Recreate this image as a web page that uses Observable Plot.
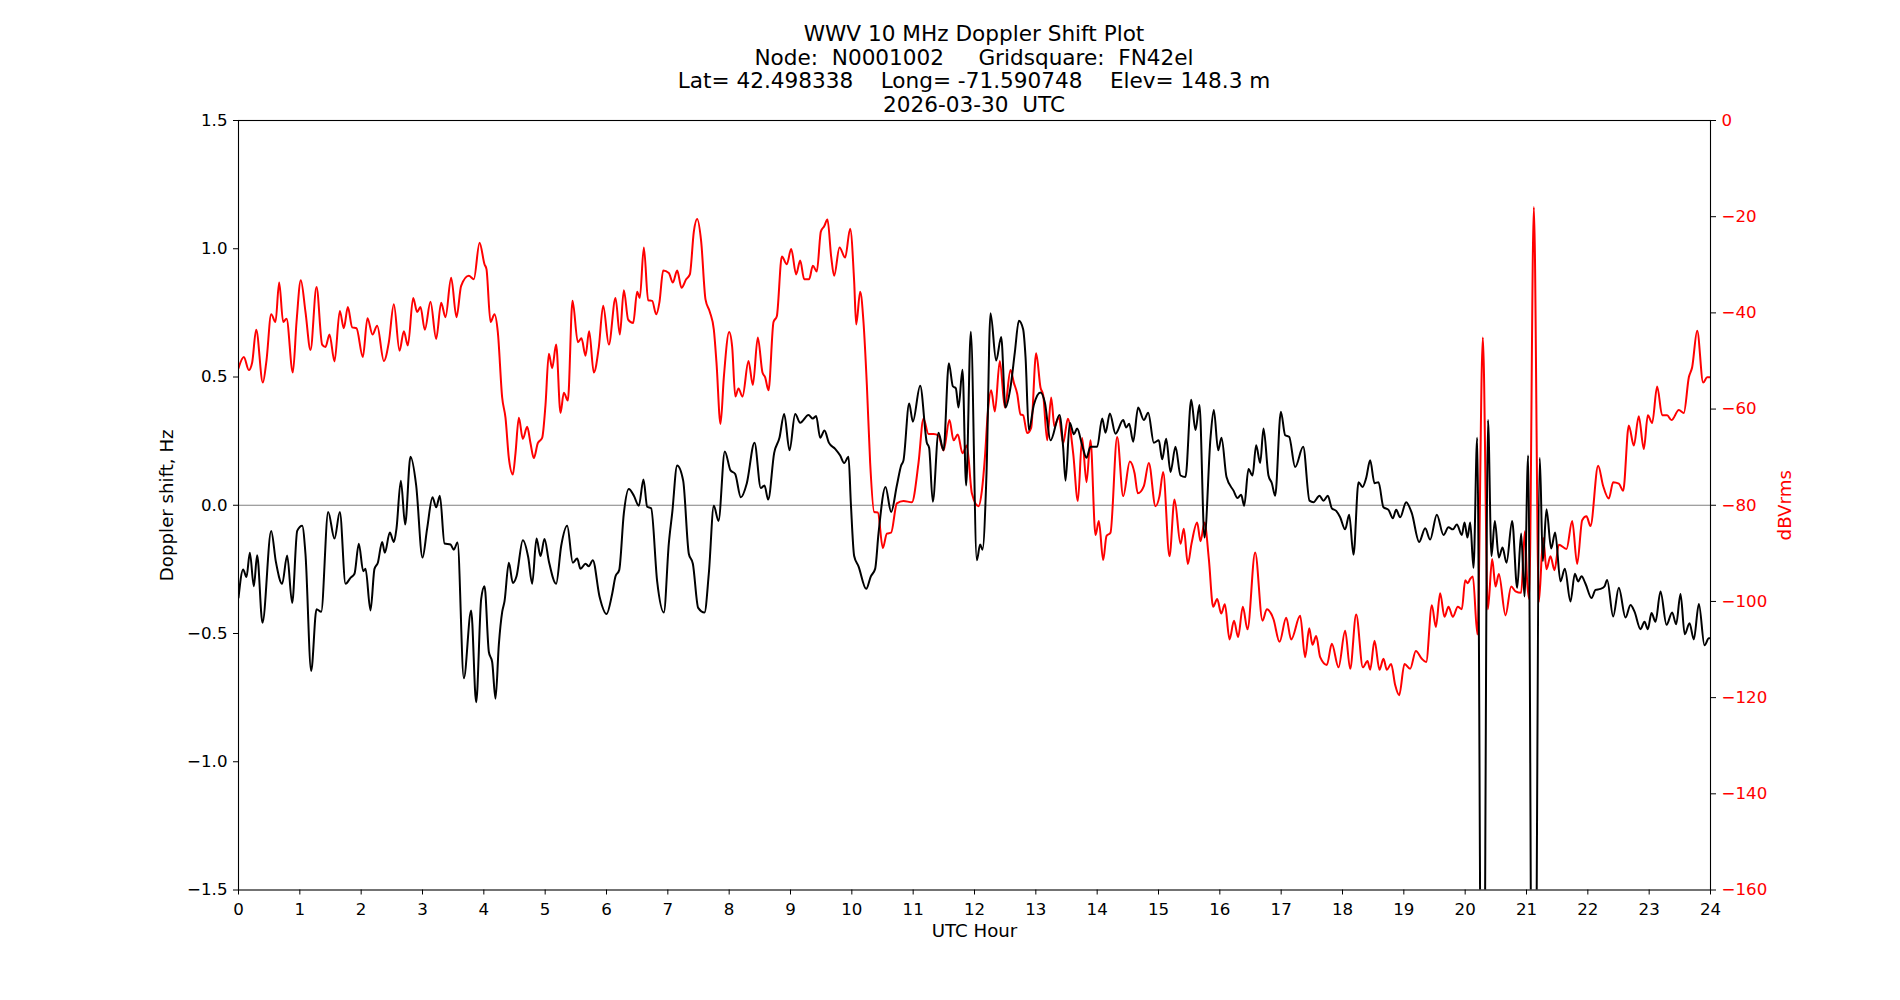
<!DOCTYPE html>
<html>
<head>
<meta charset="utf-8">
<script src="https://cdn.jsdelivr.net/npm/d3@7"></script>
<script src="https://cdn.jsdelivr.net/npm/@observablehq/plot@0.6"></script>
<style>
html, body { margin: 0; padding: 0; background: #fff; }
#title {
  width: 1900px; height: 116px; box-sizing: border-box;
  padding-top: 22px; padding-left: 48px;
  text-align: center; font-family: "DejaVu Sans", sans-serif;
  font-size: 21.6px; line-height: 23.67px; white-space: pre; color: #000;
}
#title div { height: 23.67px; }
</style>
</head>
<body>
<div id="title"></div>
<div id="chart"></div>
<script>
const titleLines = [
  "WWV 10 MHz Doppler Shift Plot",
  "Node:  N0001002     Gridsquare:  FN42el",
  "Lat= 42.498338    Long= -71.590748    Elev= 148.3 m",
  "2026-03-30  UTC"
];
const xLabel = "UTC Hour";
const yLabelLeft = "Doppler shift, Hz";
const yLabelRight = "dBVrms";

const hourTicks = [0,1,2,3,4,5,6,7,8,9,10,11,12,13,14,15,16,17,18,19,20,21,22,23,24];
const dopplerTicks = [-1.5, -1.0, -0.5, 0.0, 0.5, 1.0, 1.5];
const dbTicks = [-160, -140, -120, -100, -80, -60, -40, -20, 0];

// Doppler shift (Hz) vs UTC hour
const dopplerHours = [
0.0,0.076,0.13,0.185,0.25,0.304,0.391,0.533,0.609,0.712,0.793,0.875,0.957,1.038,1.092,1.185,1.272,1.348,1.462,1.565,1.652,1.745,1.826,1.891,1.962,
2.033,2.071,2.152,2.217,2.272,2.342,2.386,2.467,2.533,2.576,2.647,2.717,2.804,2.897,3.0,3.076,3.163,3.223,3.283,3.359,3.457,3.511,3.571,3.674,3.793,3.875,3.957,4.011,
4.082,4.136,4.19,4.245,4.30,4.337,4.408,4.473,4.533,4.636,4.723,4.788,4.859,4.924,4.989,5.06,5.179,5.261,5.359,5.451,5.522,5.576,5.658,5.712,5.777,5.886,
6.0,6.092,6.147,6.207,6.283,6.364,6.446,6.527,6.603,6.663,6.728,6.826,6.935,7.016,7.071,7.152,7.25,7.342,7.408,7.495,7.598,7.668,7.75,7.826,7.929,8.022,
8.098,8.19,8.288,8.413,8.516,8.576,8.636,8.734,8.82,8.897,8.984,9.076,9.158,9.293,9.364,9.418,9.484,9.554,9.625,9.728,9.81,9.875,9.946,9.984,
10.038,10.109,10.234,10.31,10.38,10.435,10.549,10.641,10.734,10.804,10.842,10.935,10.995,11.114,11.223,11.26,11.32,11.413,11.495,11.582,11.647,11.696,11.739,11.804,11.864,11.94,
12.038,12.092,12.13,12.196,12.261,12.353,12.435,12.505,12.587,12.658,12.723,12.793,12.832,12.886,12.967,13.076,13.147,13.239,13.386,13.446,13.484,13.554,13.62,13.674,13.755,13.826,13.891,
14.0,14.082,14.136,14.207,14.299,14.424,14.473,14.522,14.587,14.668,14.761,14.832,14.924,15.005,15.06,15.125,15.196,15.277,15.359,15.44,15.533,15.603,15.668,15.75,15.848,15.902,15.973,
16.027,16.109,16.223,16.288,16.348,16.397,16.467,16.533,16.592,16.658,16.712,16.793,16.848,16.902,16.995,17.065,17.13,17.228,17.359,17.462,17.527,17.625,17.69,17.761,17.826,17.897,17.962,
18.043,18.109,18.179,18.261,18.326,18.386,18.451,18.522,18.587,18.668,18.75,18.821,18.875,18.94,19.038,19.13,19.25,19.348,19.429,19.538,19.647,19.728,19.799,19.864,19.946,19.989,
20.038,20.082,20.136,20.196,20.285,20.372,20.429,20.484,20.549,20.609,20.674,20.766,20.848,20.913,20.967,21.027,21.114,21.217,21.266,21.326,21.402,21.467,21.554,21.625,21.717,21.788,21.842,21.897,21.962,
22.06,22.125,22.207,22.272,22.315,22.413,22.505,22.614,22.696,22.761,22.859,22.924,22.978,23.038,23.103,23.185,23.283,23.375,23.44,23.511,23.58,23.658,23.728,23.81,23.902,23.973,24.0
];
const dopplerHz = [
-0.36,-0.25,-0.28,-0.185,-0.316,-0.195,-0.458,-0.10,-0.22,-0.306,-0.196,-0.381,-0.10,-0.08,-0.19,-0.646,-0.405,-0.415,-0.026,-0.13,-0.026,-0.306,-0.283,-0.267,-0.15,
-0.257,-0.248,-0.41,-0.248,-0.224,-0.143,-0.185,-0.106,-0.143,-0.09,0.096,-0.075,0.189,0.077,-0.204,-0.09,0.031,-0.008,0.037,-0.149,-0.153,-0.173,-0.145,-0.674,-0.41,-0.768,-0.365,-0.316,
-0.572,-0.611,-0.754,-0.542,-0.415,-0.375,-0.224,-0.303,-0.277,-0.136,-0.202,-0.306,-0.13,-0.198,-0.132,-0.218,-0.306,-0.159,-0.08,-0.224,-0.208,-0.248,-0.228,-0.238,-0.214,-0.356,
-0.424,-0.346,-0.277,-0.253,-0.031,0.063,0.037,-0.002,0.10,-0.006,-0.012,-0.297,-0.418,-0.149,-0.031,0.155,0.096,-0.189,-0.228,-0.40,-0.418,-0.267,-0.002,-0.061,0.21,0.136,
0.122,0.031,0.086,0.244,0.067,0.077,0.022,0.204,0.263,0.356,0.214,0.356,0.322,0.352,0.338,0.348,0.263,0.291,0.244,0.22,0.194,0.165,0.189,0.008,
-0.198,-0.238,-0.326,-0.277,-0.248,-0.11,0.071,-0.026,0.077,0.155,0.175,0.397,0.326,0.466,0.244,0.224,0.014,0.283,0.214,0.554,0.464,0.456,0.381,0.528,0.077,0.676,
-0.214,-0.153,-0.173,0.126,0.749,0.564,0.656,0.381,0.46,0.597,0.719,0.686,0.578,0.293,0.391,0.44,0.401,0.253,0.352,0.224,0.096,0.322,0.277,0.299,0.234,0.185,0.228,
0.228,0.338,0.283,0.358,0.279,0.332,0.303,0.318,0.248,0.381,0.332,0.361,0.244,0.253,0.179,0.259,0.13,0.228,0.116,0.11,0.411,0.293,0.391,-0.126,0.263,0.371,0.214,
0.263,0.11,0.057,0.028,0.041,-0.002,0.141,0.116,0.234,0.165,0.299,0.116,0.086,0.037,0.365,0.273,0.267,0.149,0.228,0.018,0.012,0.037,0.018,0.037,-0.012,-0.022,-0.047,
-0.094,-0.037,-0.193,0.09,0.071,0.106,0.175,0.086,0.09,-0.008,-0.018,-0.051,-0.018,-0.047,0.012,-0.031,-0.143,-0.09,-0.134,-0.037,-0.116,-0.086,-0.094,-0.075,-0.116,-0.067,
-0.126,-0.067,-0.244,0.263,-3.0,0.332,-0.198,-0.061,-0.204,-0.165,-0.224,-0.061,-0.322,-0.11,-0.356,0.194,-3.3,0.185,-0.218,-0.016,-0.169,-0.106,-0.297,-0.248,-0.375,-0.267,-0.297,-0.277,-0.306,
-0.362,-0.33,-0.326,-0.316,-0.291,-0.434,-0.322,-0.438,-0.389,-0.415,-0.483,-0.454,-0.483,-0.42,-0.454,-0.336,-0.466,-0.418,-0.464,-0.346,-0.503,-0.46,-0.523,-0.385,-0.546,-0.519,-0.519
];

// Received signal level (dBVrms) vs UTC hour
const powerHours = [
0.0,0.087,0.168,0.223,0.288,0.397,0.457,0.533,0.603,0.663,0.728,0.783,0.886,0.946,1.016,1.092,1.174,1.272,1.364,1.418,1.484,1.565,1.652,1.717,1.783,1.853,1.924,
2.027,2.103,2.185,2.261,2.37,2.451,2.533,2.625,2.696,2.761,2.848,2.913,2.967,3.038,3.13,3.223,3.304,3.375,3.467,3.554,3.63,3.755,3.837,3.93,
4.011,4.043,4.109,4.174,4.228,4.299,4.353,4.408,4.473,4.516,4.571,4.636,4.707,4.761,4.815,4.88,4.951,5.005,5.06,5.114,5.179,5.25,5.304,5.37,5.446,5.533,5.592,5.658,5.717,5.793,5.875,5.946,
6.038,6.147,6.217,6.283,6.353,6.435,6.5,6.543,6.609,6.679,6.745,6.81,6.864,6.924,7.016,7.082,7.152,7.223,7.299,7.359,7.424,7.478,7.543,7.614,7.685,7.75,7.793,7.859,7.913,
8.0,8.049,8.10,8.152,8.217,8.315,8.386,8.467,8.543,8.587,8.641,8.723,8.777,8.859,8.94,9.011,9.092,9.158,9.223,9.304,9.364,9.429,9.495,9.549,9.603,9.663,9.712,9.799,9.891,9.973,
10.038,10.071,10.136,10.19,10.245,10.299,10.364,10.424,10.505,10.571,10.641,10.734,10.842,10.978,11.087,11.168,11.25,11.332,11.413,11.495,11.592,11.658,11.728,11.804,11.875,11.957,
12.065,12.12,12.17,12.217,12.272,12.332,12.413,12.495,12.587,12.641,12.696,12.75,12.793,12.859,12.924,13.005,13.076,13.12,13.185,13.25,13.304,13.375,13.446,13.522,13.609,13.685,13.755,13.826,13.891,13.973,
14.027,14.098,14.152,14.217,14.326,14.424,14.533,14.609,14.663,14.761,14.842,14.951,15.016,15.076,15.179,15.261,15.359,15.413,15.478,15.538,15.63,15.685,15.75,15.821,15.891,15.957,
16.022,16.082,16.158,16.231,16.298,16.375,16.451,16.576,16.696,16.766,16.875,16.973,17.082,17.163,17.31,17.391,17.457,17.511,17.571,17.636,17.745,17.826,17.935,
18.043,18.125,18.223,18.332,18.408,18.451,18.522,18.603,18.668,18.723,18.793,18.859,18.924,19.011,19.103,19.196,19.293,19.364,19.457,19.522,19.592,19.663,19.728,19.799,19.88,19.946,
20.0,20.043,20.082,20.125,20.2,20.288,20.37,20.44,20.495,20.549,20.658,20.75,20.821,20.913,20.973,21.011,21.043,21.12,21.201,21.272,21.326,21.391,21.457,21.527,21.652,21.745,21.826,21.908,21.978,
22.043,22.168,22.25,22.342,22.413,22.505,22.576,22.668,22.75,22.83,22.913,22.978,23.049,23.13,23.212,23.293,23.364,23.484,23.565,23.647,23.701,23.783,23.88,23.946,24.0
];
const powerDb = [
-51.5,-49.2,-51.9,-50.3,-43.5,-54.5,-49.8,-40.3,-41.9,-33.7,-41.9,-41.2,-52.4,-41.9,-33.2,-39.8,-47.7,-34.6,-46.6,-47.1,-44.5,-50.1,-39.6,-43.2,-38.8,-43.0,-43.2,
-49.2,-41.1,-44.5,-42.7,-50.0,-46.1,-38.2,-47.9,-43.8,-46.8,-36.9,-39.8,-38.8,-43.5,-37.7,-45.4,-37.9,-40.9,-32.7,-40.9,-34.4,-32.3,-33.0,-25.4,
-29.9,-30.9,-41.9,-40.3,-44.0,-57.6,-61.8,-70.2,-73.6,-69.2,-61.8,-66.2,-63.7,-67.1,-70.2,-67.1,-66.0,-59.2,-48.5,-51.5,-46.6,-60.8,-56.6,-58.2,-37.5,-46.1,-45.3,-48.9,-43.8,-52.4,-47.1,-38.5,
-46.6,-36.9,-44.5,-35.3,-41.4,-42.1,-35.6,-36.9,-26.4,-37.4,-37.5,-40.3,-37.7,-31.2,-31.7,-33.7,-31.2,-34.8,-33.0,-32.0,-23.1,-20.5,-25.1,-37.2,-39.8,-43.5,-50.3,-63.1,-53.4,
-44.0,-47.1,-57.4,-55.7,-57.4,-50.0,-55.0,-45.1,-52.4,-53.4,-56.1,-41.9,-40.7,-28.3,-29.9,-26.7,-32.0,-29.1,-33.0,-33.0,-30.2,-31.4,-23.1,-22.0,-20.6,-28.3,-32.3,-26.4,-28.5,-22.5,
-33.5,-42.4,-35.6,-41.9,-55.0,-71.2,-81.4,-81.5,-88.9,-85.9,-85.7,-79.6,-79.1,-79.4,-71.2,-62.0,-65.2,-65.2,-65.5,-68.6,-62.3,-66.5,-65.3,-69.2,-67.6,-77.5,
-80.2,-77.0,-70.0,-60.8,-56.1,-60.5,-50.0,-59.7,-51.9,-54.5,-56.8,-61.1,-61.3,-65.0,-63.9,-48.4,-55.5,-57.1,-66.5,-57.6,-63.7,-61.6,-67.1,-62.0,-69.2,-79.1,-66.0,-75.2,-66.5,-86.2,
-83.3,-91.4,-86.4,-85.7,-65.8,-78.1,-70.9,-73.3,-77.5,-76.0,-71.2,-80.2,-78.1,-73.1,-90.6,-78.8,-88.0,-84.9,-92.2,-88.0,-83.6,-87.5,-83.6,-91.2,-101.1,-99.5,
-102.5,-100.6,-107.9,-104.0,-107.4,-101.1,-105.8,-89.8,-104.0,-101.6,-103.7,-108.4,-103.4,-107.9,-103.0,-111.6,-105.6,-109.0,-107.2,-111.6,-113.2,-108.8,-113.7,
-106.1,-114.0,-102.7,-113.7,-112.4,-114.2,-108.2,-114.2,-111.9,-114.2,-113.0,-117.4,-119.5,-113.0,-114.0,-110.3,-111.9,-112.6,-100.8,-105.3,-98.3,-103.2,-101.1,-103.2,-101.1,-101.6,
-95.6,-96.2,-95.3,-94.8,-106.9,-45.1,-101.6,-91.2,-96.9,-94.3,-102.9,-96.9,-97.9,-98.2,-85.4,-95.9,-99.5,-18.0,-100.1,-86.8,-93.3,-90.6,-93.5,-88.2,-89.1,-83.3,-92.2,-83.1,-82.3,
-84.3,-71.8,-76.0,-78.6,-75.2,-75.5,-77.0,-63.4,-67.6,-61.5,-68.3,-61.3,-62.9,-55.3,-61.3,-61.3,-62.3,-60.2,-60.8,-53.4,-51.3,-43.7,-54.5,-53.4,-53.4
];

// build the tables Plot needs
const doppler = dopplerHours.map((h, i) => ({hour: h, hz: dopplerHz[i]}));
const power = powerHours.map((h, i) => ({hour: h, db: powerDb[i]}));

// secondary axis: map dB domain [-160, 0] onto Doppler domain [-1.5, 1.5]
const yDom = [dopplerTicks[0], dopplerTicks[dopplerTicks.length - 1]];
const dbDom = [dbTicks[0], dbTicks[dbTicks.length - 1]];
const dbToY = d3.scaleLinear().domain(dbDom).range(yDom);

const titleEl = document.getElementById("title");
titleLines.forEach(t => { const d = document.createElement("div"); d.textContent = t; titleEl.appendChild(d); });

const fmt1 = d3.format(".1f");
const fmtInt = d3.format("d");

const chart = Plot.plot({
  width: 1900,
  height: 884,
  marginTop: 4,
  marginBottom: 110.5,
  marginLeft: 238,
  marginRight: 190,
  style: {fontFamily: "DejaVu Sans, sans-serif", fontSize: "16.67px", background: "#fff", overflow: "visible", color: "#000"},
  x: {domain: [hourTicks[0], hourTicks[hourTicks.length - 1]]},
  y: {domain: yDom},
  marks: [
    Plot.ruleY([0], {stroke: "#808080", strokeWidth: 1.2}),
    Plot.line(power, {x: "hour", y: d => dbToY(d.db), stroke: "#ff0000", strokeWidth: 2, curve: "monotone-x", clip: true}),
    Plot.line(doppler, {x: "hour", y: "hz", stroke: "#000000", strokeWidth: 2, curve: "monotone-x", clip: true}),
    Plot.frame({stroke: "#000", strokeWidth: 1.1}),
    Plot.axisX(hourTicks, {anchor: "bottom", tickSize: 5, tickPadding: 8, tickFormat: fmtInt, label: null, stroke: "#000", fill: "#000"}),
    Plot.axisY(dopplerTicks, {anchor: "left", tickSize: 5, tickPadding: 6, tickFormat: fmt1, label: null, stroke: "#000", fill: "#000"}),
    Plot.axisY(dbTicks.map(v => dbToY(v)), {anchor: "right", tickSize: 5, tickPadding: 6,
      tickFormat: v => fmtInt(Math.round(dbToY.invert(v))), label: null, stroke: "#000", fill: "#ff0000"}),
    Plot.text([xLabel], {text: d => d, frameAnchor: "bottom", dy: 47.2, lineAnchor: "bottom", textAnchor: "middle", fontSize: 18.2, fill: "#000"}),
    Plot.text([yLabelLeft], {text: d => d, frameAnchor: "left", dx: -66, rotate: -90, lineAnchor: "bottom", textAnchor: "middle", fontSize: 18.2, fill: "#000"}),
    Plot.text([yLabelRight], {text: d => d, frameAnchor: "right", dx: 80, rotate: -90, lineAnchor: "bottom", textAnchor: "middle", fontSize: 18.2, fill: "#ff0000"})
  ]
});
document.getElementById("chart").appendChild(chart);
</script>
</body>
</html>
